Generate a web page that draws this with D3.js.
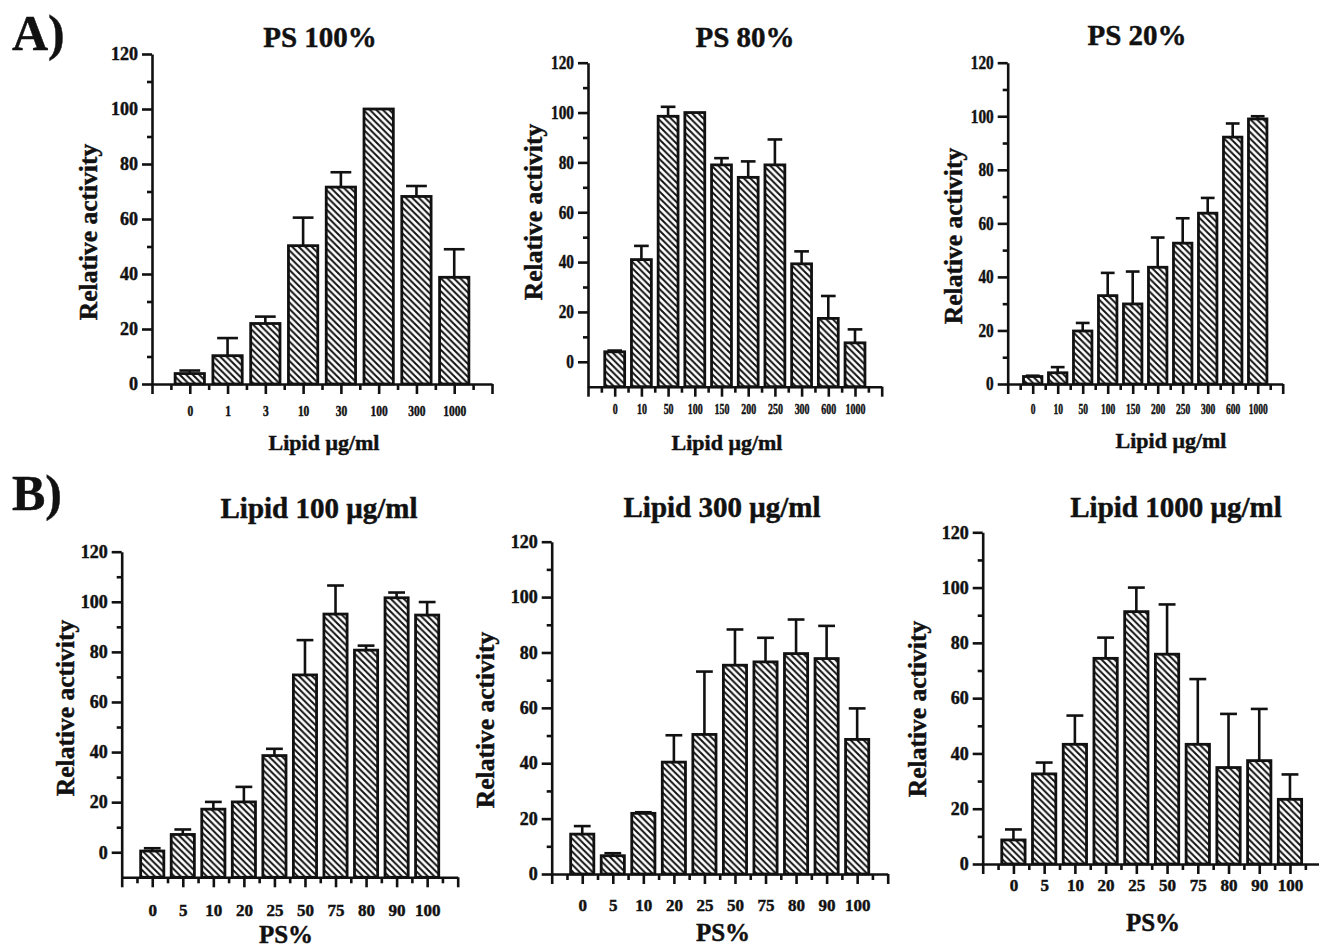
<!DOCTYPE html>
<html>
<head>
<meta charset="utf-8">
<script src="https://cdn.jsdelivr.net/npm/d3@7"></script>
<style>
  body { margin: 0; background: #fff; }
  svg text { font-family: "Liberation Serif", "Times New Roman", serif; font-weight: bold; fill: #111; stroke: #111; stroke-width: 0.45; }
  .axis path, .axis line { stroke: #111; stroke-width: 2.6; }
</style>
</head>
<body>
<svg id="fig" width="1319" height="950"></svg>
<script>
// categories
const catsLipidA1 = ["0", "1", "3", "10", "30", "100", "300", "1000"];
const catsLipidA = ["0", "10", "50", "100", "150", "200", "250", "300", "600", "1000"];
const catsPS = ["0", "5", "10", "20", "25", "50", "75", "80", "90", "100"];

// A) activity vs lipid concentration (mean, error above bar)
const valsPS100 = [3.8, 10.3, 22, 50.3, 71.6, 100, 68.2, 38.8];
const errPS100 = [1.1, 6.4, 2.5, 10.2, 5.4, 0, 3.8, 10.2];
const valsPS80 = [4.0, 41, 98.5, 100, 79, 74, 79, 39.3, 17.4, 7.6];
const errPS80 = [0.5, 5.5, 3.8, 0, 2.7, 6.4, 10.2, 5, 9, 5.4];
const valsPS20 = [2.8, 4.2, 19.8, 33, 29.9, 43.6, 52.6, 63.8, 92.2, 99];
const errPS20 = [0.3, 2.1, 3.0, 8.5, 12.1, 11.1, 9.3, 5.7, 5.1, 1.0];

// B) activity vs PS %
const valsL100 = [0.5, 7.1, 17.2, 20.1, 38.6, 70.8, 95.1, 80.7, 101.6, 94.7];
const errL100 = [1.1, 2.0, 2.9, 6.0, 2.7, 13.9, 11.4, 1.8, 2.1, 5.2];
const valsL300 = [14.4, 6.6, 21.9, 40.4, 50.4, 75.4, 76.6, 79.6, 77.8, 48.6];
const errL300 = [2.9, 0.9, 0.4, 9.7, 22.7, 12.9, 8.7, 12.3, 11.8, 11.2];
const valsL1000 = [8.7, 32.6, 43.3, 74.4, 91.3, 75.9, 43.3, 34.9, 37.4, 23.4];
const errL1000 = [3.8, 4.1, 10.4, 7.5, 8.7, 18.0, 23.6, 19.4, 18.7, 9.0];

const yTicks = [0, 20, 40, 60, 80, 100, 120];
const yMinor = [10, 30, 50, 70, 90, 110];

const panels = [
  { title: "PS 100%", cats: catsLipidA1, vals: valsPS100, errs: errPS100, xlab: "Lipid μg/ml", yMin: 0,
    x0: 152, x1: 492, yT: 54, yB: 384, tx: 320, ty: 47, lx: 88, ly: 232, xx: 324, xy: 450,
    yFs: 18, ySx: 1, xFs: 14, xSx: 0.82, xOff: 27, xlFs: 22 },
  { title: "PS 80%", cats: catsLipidA, vals: valsPS80, errs: errPS80, xlab: "Lipid μg/ml", yMin: -10,
    x0: 588, x1: 881.7, yT: 62.7, yB: 386.7, tx: 745, ty: 47, lx: 533, ly: 212, xx: 727, xy: 450,
    yFs: 18, ySx: 0.85, xFs: 14, xSx: 0.71, xOff: 22, xlFs: 22 },
  { title: "PS 20%", cats: catsLipidA, vals: valsPS20, errs: errPS20, xlab: "Lipid μg/ml", yMin: 0,
    x0: 1007.7, x1: 1282.7, yT: 62.7, yB: 384, tx: 1137, ty: 45, lx: 953, ly: 236, xx: 1171, xy: 448,
    yFs: 18, ySx: 0.85, xFs: 14, xSx: 0.68, xOff: 25, xlFs: 22 },
  { title: "Lipid 100 μg/ml", cats: catsPS, vals: valsL100, errs: errL100, xlab: "PS%", yMin: -10,
    x0: 121.7, x1: 457.7, yT: 551.7, yB: 877.3, tx: 319, ty: 518, lx: 65, ly: 708, xx: 286, xy: 943,
    yFs: 18, ySx: 1, xFs: 17, xSx: 1, xOff: 33, xlFs: 25 },
  { title: "Lipid 300 μg/ml", cats: catsPS, vals: valsL300, errs: errL300, xlab: "PS%", yMin: 0,
    x0: 551.7, x1: 887.7, yT: 541.7, yB: 874, tx: 722, ty: 517, lx: 485, ly: 720, xx: 723, xy: 941,
    yFs: 18, ySx: 1, xFs: 17, xSx: 1, xOff: 31, xlFs: 25 },
  { title: "Lipid 1000 μg/ml", cats: catsPS, vals: valsL1000, errs: errL1000, xlab: "PS%", yMin: 0,
    x0: 982.7, x1: 1320.7, yT: 532.3, yB: 864, tx: 1176, ty: 517, lx: 917, ly: 709, xx: 1153, xy: 931,
    yFs: 18, ySx: 1, xFs: 17, xSx: 1, xOff: 21, xlFs: 25 }
];

const svg = d3.select("#fig");

// diagonal hatch for bars
svg.append("defs").append("pattern")
  .attr("id", "hatch")
  .attr("patternUnits", "userSpaceOnUse")
  .attr("width", 6.5).attr("height", 6.5)
  .append("path")
  .attr("d", "M-1,-1 L7.5,7.5 M-1,5.5 L1,7.5 M5.5,-1 L7.5,1")
  .attr("stroke", "#111").attr("stroke-width", 2);

svg.append("text").attr("x", 12).attr("y", 50).attr("font-size", 50).text("A)");
svg.append("text").attr("x", 12).attr("y", 510).attr("font-size", 50).text("B)");

panels.forEach(p => {
  const n = p.cats.length;
  const x = d3.scaleLinear().domain([0, n + 1]).range([p.x0, p.x1]);
  const y = d3.scaleLinear().domain([p.yMin, 120]).range([p.yB, p.yT]);
  const g = svg.append("g");
  const unit = x(1) - x(0);
  const bw = unit * 0.85 - 2.8;
  const capW = unit * 0.55;
  const data = p.cats.map((c, i) => ({ c: c, v: p.vals[i], e: p.errs[i], i: i }));

  // error bars (only the upper half shows)
  const eb = g.append("g").attr("stroke", "#111").attr("stroke-width", 2.6);
  eb.selectAll("line.v").data(data.filter(d => d.e > 0)).join("line")
    .attr("x1", d => x(d.i + 1)).attr("x2", d => x(d.i + 1))
    .attr("y1", d => y(d.v)).attr("y2", d => y(d.v + d.e));
  eb.selectAll("line.cap").data(data.filter(d => d.e > 0)).join("line")
    .attr("x1", d => x(d.i + 1) - capW / 2).attr("x2", d => x(d.i + 1) + capW / 2)
    .attr("y1", d => y(d.v + d.e)).attr("y2", d => y(d.v + d.e));

  // bars
  g.append("g").selectAll("rect").data(data).join("rect")
    .attr("x", d => x(d.i + 1) - bw / 2)
    .attr("width", bw)
    .attr("y", d => y(d.v))
    .attr("height", d => y(p.yMin) - y(d.v))
    .attr("fill", "url(#hatch)")
    .attr("stroke", "#111")
    .attr("stroke-width", 2.8);

  // y axis
  const ya = g.append("g").attr("class", "axis").attr("transform", `translate(${p.x0},0)`)
    .call(d3.axisLeft(y).tickValues(yTicks).tickSize(10).tickSizeOuter(0).tickFormat(d3.format("d")));
  ya.selectAll("text")
    .attr("font-size", p.yFs)
    .attr("x", -14 / p.ySx)
    .attr("transform", `scale(${p.ySx},1)`);
  g.append("g").attr("class", "axis").attr("transform", `translate(${p.x0},0)`)
    .call(d3.axisLeft(y).tickValues(yMinor).tickSize(5).tickFormat(""))
    .select(".domain").remove();

  // x axis
  const xa = g.append("g").attr("class", "axis").attr("transform", `translate(0,${p.yB})`)
    .call(d3.axisBottom(x).tickValues(d3.range(0, n + 2)).tickSize(10).tickSizeOuter(0)
      .tickFormat(d => (d >= 1 && d <= n) ? p.cats[d - 1] : ""));
  xa.selectAll("text")
    .attr("font-size", p.xFs)
    .attr("y", p.xOff)
    .attr("dy", "0.35em")
    .attr("transform", `scale(${p.xSx},1)`);
  g.append("g").attr("class", "axis").attr("transform", `translate(0,${p.yB})`)
    .call(d3.axisBottom(x).tickValues(d3.range(0.5, n + 1.5, 1)).tickSize(6).tickFormat(""))
    .select(".domain").remove();
  ya.raise();

  // titles and labels
  g.append("text").attr("x", p.tx).attr("y", p.ty).attr("text-anchor", "middle")
    .attr("font-size", 29).text(p.title);
  g.append("text").attr("transform", `translate(${p.lx},${p.ly}) rotate(-90)`)
    .attr("text-anchor", "middle").attr("dy", "0.35em")
    .attr("font-size", 25.5).text("Relative activity");
  g.append("text").attr("x", p.xx).attr("y", p.xy).attr("text-anchor", "middle")
    .attr("font-size", p.xlFs).text(p.xlab);
});
</script>
</body>
</html>
